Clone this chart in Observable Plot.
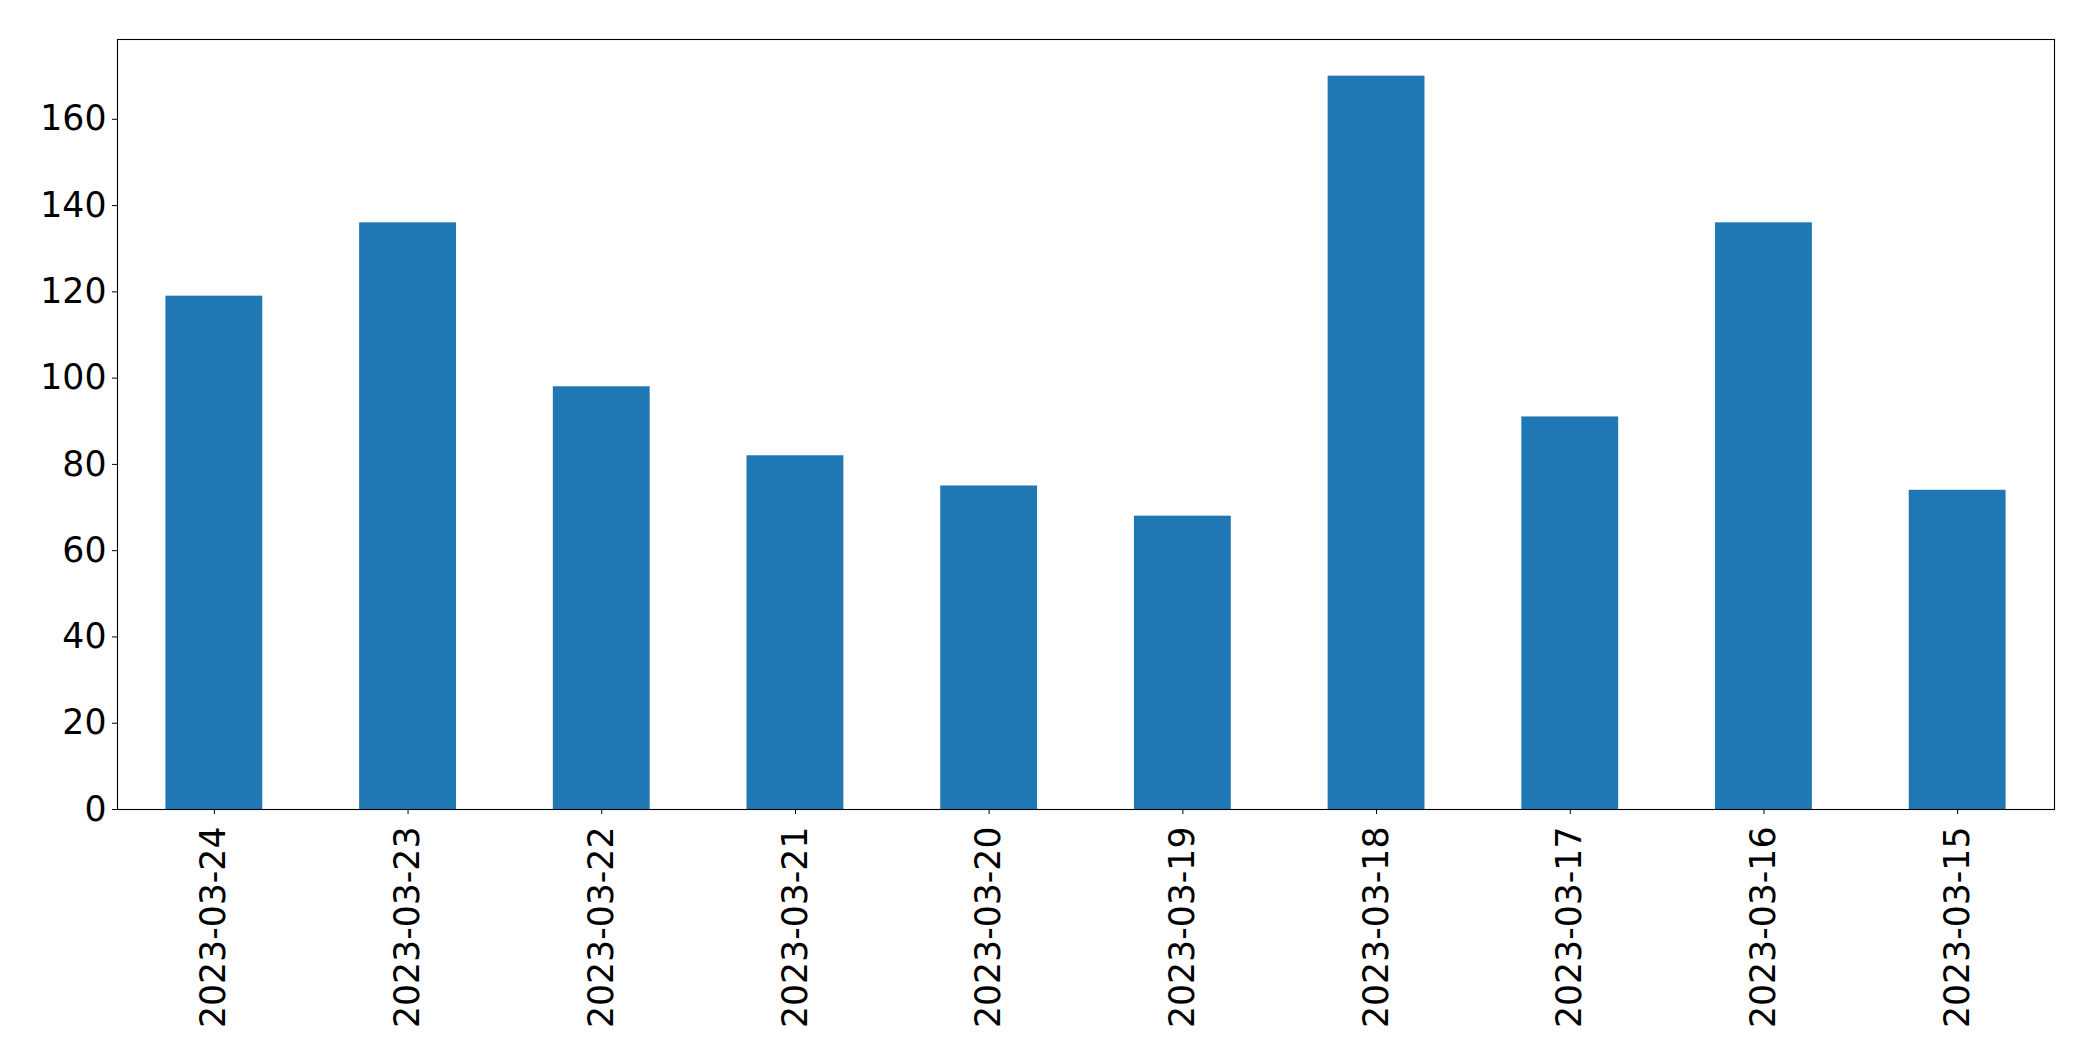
<!DOCTYPE html>
<html>
<head>
<meta charset="utf-8">
<script src="https://cdn.jsdelivr.net/npm/d3@7"></script>
<script src="https://cdn.jsdelivr.net/npm/@observablehq/plot@0.6"></script>
<style>
  html, body { margin: 0; padding: 0; background: #fff; }
  #chart svg { display: block; }
</style>
</head>
<body>
<div id="chart"></div>
<script>
const dates = ["2023-03-24","2023-03-23","2023-03-22","2023-03-21","2023-03-20","2023-03-19","2023-03-18","2023-03-17","2023-03-16","2023-03-15"];
const counts = [119, 136, 98, 82, 75, 68, 170, 91, 136, 74];
const yTicks = [0, 20, 40, 60, 80, 100, 120, 140, 160];

const data = dates.map((d, i) => ({date: d, count: counts[i]}));

const chart = Plot.plot({
  width: 2093,
  height: 1061,
  marginLeft: 117,
  marginRight: 39,
  marginTop: 39,
  marginBottom: 252,
  style: {fontSize: "34.7px", fontFamily: "DejaVu Sans", color: "#000", background: "#fff"},
  x: {domain: dates, paddingInner: 0.5, paddingOuter: 0.25, align: 0.5, round: false},
  y: {domain: [0, 178.5]},
  marks: [
    Plot.barY(data, {x: "date", y: "count", fill: "#1f77b4"}),
    Plot.frame({stroke: "#000", strokeWidth: 1.1}),
    Plot.axisY({ticks: yTicks, tickSize: 5, tickPadding: 6, label: null, tickFormat: d => String(d)}),
    Plot.axisX({tickRotate: -90, tickSize: 5, tickPadding: 12, label: null})
  ]
});
document.getElementById("chart").appendChild(chart);
</script>
</body>
</html>
